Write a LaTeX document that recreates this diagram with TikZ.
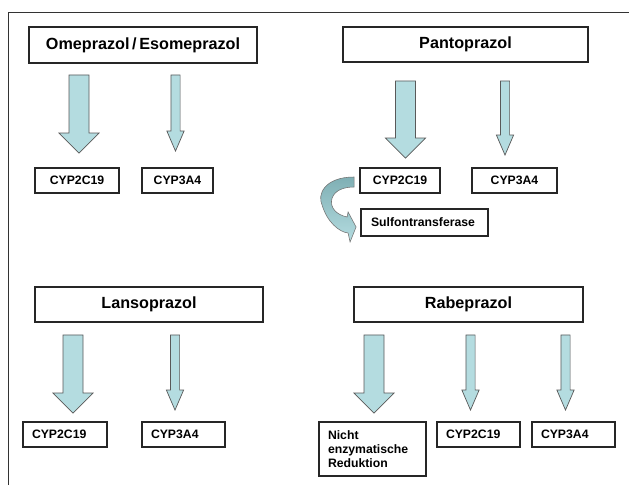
\documentclass[tikz,border=0pt]{standalone}
\usepackage{fontspec}
\setmainfont{Liberation Sans}
\usepackage{tikz}
\usetikzlibrary{calc, positioning}
\definecolor{arrowblue}{HTML}{B4DCE0}
\definecolor{arrowdark}{HTML}{7FAFB4}

% block arrow from one node down to another: from, to, x (cm), top gap, tip gap, shaft half width, head half width
\newcommand{\blockflow}[7]{%
  \draw[flowarrow] let \p1=(#1.south), \p2=(#2.north) in
    ({#3cm-#6cm},{\y1-#4cm}) -- ({#3cm+#6cm},{\y1-#4cm})
    -- ({#3cm+#6cm},{\y2+#5cm+0.5cm}) -- ({#3cm+#7cm},{\y2+#5cm+0.5cm})
    -- ({#3cm},{\y2+#5cm}) -- ({#3cm-#7cm},{\y2+#5cm+0.5cm})
    -- ({#3cm-#6cm},{\y2+#5cm+0.5cm}) -- cycle;
}
\newcommand{\bigflow}[5]{\blockflow{#1}{#2}{#3}{#4}{#5}{0.25}{0.5}}
\newcommand{\thinflow}[5]{\blockflow{#1}{#2}{#3}{#4}{#5}{0.115}{0.215}}

\begin{document}
\begin{tikzpicture}[
    drug/.style={rectangle, draw=black!85, line width=1.3pt, minimum height=0.875cm,
                 font=\fontsize{11.5}{13}\selectfont\bfseries},
    enzyme/.style={rectangle, draw=black!85, line width=1.3pt, minimum height=0.625cm,
                   inner sep=0pt, font=\fontsize{8.7}{10}\selectfont\bfseries},
    enzymeleft/.style={enzyme, align=left, inner xsep=0.225cm, text width=#1},
    flowarrow/.style={draw=black!65, line width=0.5pt, fill=arrowblue},
    frame/.style={draw=black!80, line width=0.6pt}
]
\useasboundingbox (0,0) rectangle (15.725,12.225);

% Frame
\draw[frame] (0.2,0.1) -- (0.2,11.925) -- (15.725,11.925);

% Drugs
\node[drug, minimum width=5.7cm, minimum height=0.9cm] at (3.575,11.1) (ome) {Omeprazol\,/\,Esomeprazol};
\node[drug, minimum width=6.125cm] at (11.6375,11.1125) (panto) {Pantoprazol};
\node[drug, minimum width=5.7cm] at (3.725,4.6125) (lanso) {Lansoprazol};
\node[drug, minimum width=5.725cm] at (11.7125,4.6125) (rabe) {Rabeprazol};

% Enzymes, top row
\node[enzyme, minimum width=2.1cm] at (1.925,7.7125) (oCyp2) {CYP2C19};
\node[enzyme, minimum width=1.775cm] at (4.4375,7.7125) (oCyp3) {CYP3A4};
\node[enzyme, minimum width=2cm] at (10,7.7125) (pCyp2) {CYP2C19};
\node[enzyme, minimum width=2.125cm] at (12.8625,7.7125) (pCyp3) {CYP3A4};
\node[enzymeleft=2.675cm, inner xsep=0.25cm, minimum height=0.675cm] at (10.6125,6.6625) (sulfo) {Sulfontransferase};

% Enzymes, bottom row
\node[enzymeleft=1.65cm] at (1.625,1.3625) (lCyp2) {CYP2C19};
\node[enzymeleft=1.625cm] at (4.5875,1.3625) (lCyp3) {CYP3A4};
\node[enzymeleft=2.225cm, minimum height=1.35cm] at (9.3125,1) (nicht) {Nicht\\enzymatische\\Reduktion};
\node[enzymeleft=1.625cm] at (11.9625,1.3625) (rCyp2) {CYP2C19};
\node[enzymeleft=1.625cm] at (14.3375,1.3625) (rCyp3) {CYP3A4};

% Arrows
\bigflow{ome}{oCyp2}{1.975}{0.275}{0.35}
\thinflow{ome}{oCyp3}{4.3875}{0.275}{0.4}
\bigflow{panto}{pCyp2}{10.1375}{0.45}{0.225}
\thinflow{panto}{pCyp3}{12.625}{0.45}{0.3}
\bigflow{lanso}{lCyp2}{1.825}{0.3}{0.2}
\thinflow{lanso}{lCyp3}{4.375}{0.3}{0.275}
\bigflow{rabe}{nicht}{9.35}{0.3}{0.2}
\thinflow{rabe}{rCyp2}{11.7625}{0.3}{0.275}
\thinflow{rabe}{rCyp3}{14.1375}{0.3}{0.275}

% Curved arrow CYP2C19 -> Sulfontransferase
\begin{scope}[shift={(pCyp2.west)}]
\path[draw=black!55, line width=0.4pt, top color=arrowdark, bottom color=arrowblue]
  (-0.125,0.0875) .. controls (-0.875,0.0875) and (-1.05,-0.3625) .. (-0.925,-0.6125)
  .. controls (-0.8,-1.0375) and (-0.5,-1.2875) .. (-0.275,-1.3125)
  -- (-0.225,-1.5375) -- (-0.075,-1.1625) -- (-0.275,-0.7875) -- (-0.3,-0.9125)
  .. controls (-0.55,-0.8625) and (-0.75,-0.6875) .. (-0.675,-0.4375)
  .. controls (-0.6,-0.2375) and (-0.375,-0.1625) .. (-0.125,-0.1625) -- cycle;
\end{scope}

\end{tikzpicture}
\end{document}
